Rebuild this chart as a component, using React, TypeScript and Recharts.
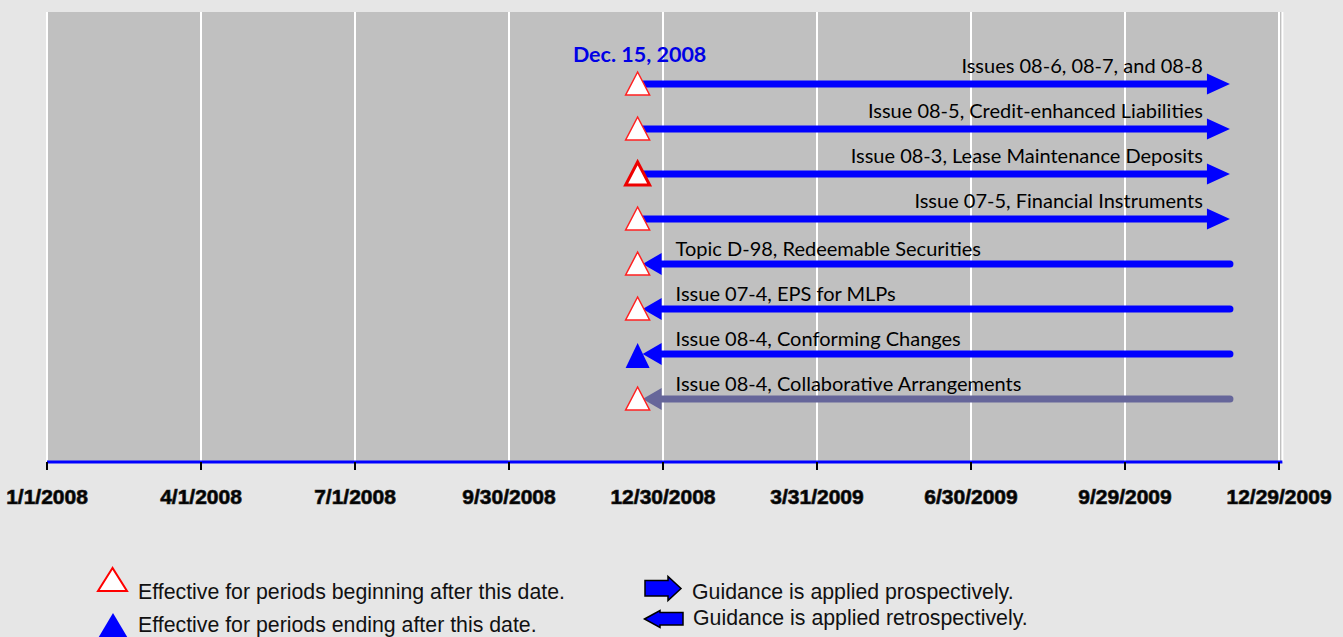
import React from 'react';
import { ComposedChart, XAxis, YAxis, CartesianGrid, ReferenceLine, ReferenceDot } from 'recharts';

// ---- data ----
const X_DOMAIN: [number, number] = [0, 730]; // days since 1/1/2008 (to 12/31/2009)
const TICK_DAYS = [0, 91, 182, 273, 364, 455, 546, 637, 728];
const TICK_LABELS = ['1/1/2008', '4/1/2008', '7/1/2008', '9/30/2008', '12/30/2008', '3/31/2009', '6/30/2009', '9/29/2009', '12/29/2009'];
const Y_DOMAIN: [number, number] = [0, 10];
const Y_TICKS = [0, 2, 4, 6, 8, 10];

const EFFECTIVE_DAY = 349; // Dec. 15, 2008
const EFFECTIVE_LABEL = 'Dec. 15, 2008';
const END_DAY = 699;

const ROW_LABELS = [
  'Issues 08-6, 08-7, and 08-8',
  'Issue 08-5, Credit-enhanced Liabilities',
  'Issue 08-3, Lease Maintenance Deposits',
  'Issue 07-5, Financial Instruments',
  'Topic D-98, Redeemable Securities',
  'Issue 07-4, EPS for MLPs',
  'Issue 08-4, Conforming Changes',
  'Issue 08-4, Collaborative Arrangements',
];
const ROW_VALUES = [8.4, 7.4, 6.4, 5.4, 4.4, 3.4, 2.4, 1.4];
const ROW_DIRECTION = ['prospective', 'prospective', 'prospective', 'prospective', 'retrospective', 'retrospective', 'retrospective', 'retrospective'];
const ROW_EFFECTIVE = ['beginning', 'beginning', 'beginning', 'beginning', 'beginning', 'beginning', 'ending', 'beginning'];

const LEGEND_MARKER_TEXT = ['Effective for periods beginning after this date.', 'Effective for periods ending after this date.'];
const LEGEND_ARROW_TEXT = ['Guidance is applied prospectively.', 'Guidance is applied retrospectively.'];

// ---- styles ----
const ROW_COLOR = ['#0000ff', '#0000ff', '#0000ff', '#0000ff', '#0000ff', '#0000ff', '#0000ff', '#66669a'];
const ROW_TRI_STROKE = [1.5, 1.5, 3, 1.5, 1.5, 1.5, 1.5, 1.5];
const LABEL_FONT = 'Lato, "Open Sans", sans-serif';
const ARIAL = '"Liberation Sans", Arial, sans-serif';
const BLUE = '#0000ff';

function makeArrow(i: number) {
  return (p: any) => {
    const { x1, y1, x2 } = p;
    const y = y1;
    const color = ROW_COLOR[i];
    if (ROW_DIRECTION[i] === 'prospective') {
      const headLen = 23;
      const half = 10.5;
      const base = x2 - headLen;
      return (
        <g>
          <line x1={x1} y1={y} x2={base + 1} y2={y} stroke={color} strokeWidth={7} />
          <polygon points={`${base},${y - half} ${x2},${y} ${base},${y + half}`} fill={color} />
        </g>
      );
    }
    const tip = x1 + 5;
    const headLen = 19;
    const half = 11;
    const base = tip + headLen;
    return (
      <g>
        <line x1={base - 1} y1={y} x2={x2} y2={y} stroke={color} strokeWidth={7} strokeLinecap="round" />
        <polygon points={`${base},${y - half} ${tip},${y} ${base},${y + half}`} fill={color} />
      </g>
    );
  };
}

function makeMarker(i: number) {
  return (p: any) => {
    const { cx, cy } = p;
    if (ROW_EFFECTIVE[i] === 'ending') {
      return <polygon points={`${cx},${cy - 11} ${cx - 12},${cy + 14} ${cx + 12},${cy + 14}`} fill={BLUE} />;
    }
    return (
      <polygon
        points={`${cx},${cy - 12} ${cx - 12},${cy + 11} ${cx + 12},${cy + 11}`}
        fill="#ffffff"
        stroke={ROW_TRI_STROKE[i] > 2 ? '#ee0000' : '#ff2020'}
        strokeWidth={ROW_TRI_STROKE[i]}
        strokeLinejoin="miter"
      />
    );
  };
}

function makeLabel(i: number) {
  return (p: any) => {
    const { cx, cy } = p;
    const pro = ROW_DIRECTION[i] === 'prospective';
    return (
      <text
        x={pro ? cx - 27 : cx + 38}
        y={pro ? cy - 11 : cy - 8}
        textAnchor={pro ? 'end' : 'start'}
        fontFamily={LABEL_FONT}
        fontSize={20}
        fill="#000"
      >
        {ROW_LABELS[i]}
      </text>
    );
  };
}

const dateLabelShape = (p: any) => (
  <text x={p.cx + 2} y={p.cy - 22} textAnchor="middle" fontFamily={LABEL_FONT} fontWeight={700} fontSize={21.5} fill="#0000e6">
    {EFFECTIVE_LABEL}
  </text>
);

const XTick = (props: any) => {
  const { x, y, payload } = props;
  const idx = TICK_DAYS.indexOf(payload.value);
  return (
    <text
      x={x}
      y={y + 34}
      textAnchor="middle"
      fontFamily={ARIAL}
      fontWeight={700}
      fontSize={21}
      fill="#000"
      stroke="#222"
      strokeWidth={0.7}
    >
      {idx >= 0 ? TICK_LABELS[idx] : ''}
    </text>
  );
};

function Legend() {
  return (
    <svg width={1343} height={637} style={{ position: 'absolute', left: 0, top: 0, pointerEvents: 'none' }}>
      <polygon points="112.5,568 98,591 127,591" fill="#fff" stroke="#ff0000" strokeWidth={2} />
      <text x={138} y={599} fontFamily={ARIAL} fontSize={21.3} fill="#111">{LEGEND_MARKER_TEXT[0]}</text>
      <polygon points="113,613 97,640 129,640" fill={BLUE} />
      <text x={138} y={632} fontFamily={ARIAL} fontSize={21.3} fill="#111">{LEGEND_MARKER_TEXT[1]}</text>

      <polygon points="645,580.5 668,580.5 668,576.5 681,588.5 668,600.5 668,596 645,596" fill={BLUE} stroke="#000" strokeWidth={1.5} />
      <text x={692} y={599} fontFamily={ARIAL} fontSize={21.3} fill="#111">{LEGEND_ARROW_TEXT[0]}</text>
      <polygon points="644.5,619 660,610.5 660,612.5 683,612.5 683,625 660,625 660,627.5" fill={BLUE} stroke="#000" strokeWidth={1.5} />
      <text x={693} y={625} fontFamily={ARIAL} fontSize={21.3} fill="#111">{LEGEND_ARROW_TEXT[1]}</text>
    </svg>
  );
}

export default function App() {
  return (
    <div style={{ position: 'fixed', left: 0, top: 0, width: 1343, height: 637, background: '#e6e6e6', overflow: 'hidden' }}>
      <ComposedChart width={1343} height={637} margin={{ top: 12, right: 60.6, bottom: 135, left: 47 }}>
        <CartesianGrid horizontal={false} vertical stroke="#ffffff" strokeWidth={2} fill="#c0c0c0" fillOpacity={1} />
        <XAxis
          dataKey="x"
          type="number"
          domain={X_DOMAIN}
          ticks={TICK_DAYS}
          interval={0}
          height={40}
          tickSize={8}
          tickMargin={0}
          tick={XTick}
          axisLine={{ stroke: BLUE, strokeWidth: 3 }}
          tickLine={{ stroke: '#000', strokeWidth: 2 }}
          allowDataOverflow
        />
        <XAxis xAxisId="top" orientation="top" type="number" domain={X_DOMAIN} height={0} tick={false} tickLine={false} axisLine={{ stroke: BLUE, strokeWidth: 3 }} allowDataOverflow />
        <YAxis
          type="number"
          domain={Y_DOMAIN}
          ticks={Y_TICKS}
          interval={0}
          width={0}
          tickSize={7}
          tickFormatter={() => ''}
          axisLine={{ stroke: '#1010a0', strokeWidth: 2 }}
          tickLine={{ stroke: '#000', strokeWidth: 3 }}
          allowDataOverflow
        />
        <YAxis yAxisId="right" orientation="right" type="number" domain={Y_DOMAIN} width={0} tick={false} tickLine={false} axisLine={{ stroke: BLUE, strokeWidth: 3 }} allowDataOverflow />

        {ROW_VALUES.map((v, i) => (
          <ReferenceLine
            key={`arrow-${i}`}
            segment={[{ x: EFFECTIVE_DAY, y: v }, { x: END_DAY, y: v }]}
            stroke={ROW_COLOR[i]}
            shape={makeArrow(i)}
          />
        ))}
        {ROW_VALUES.map((v, i) => (
          <ReferenceDot key={`marker-${i}`} x={EFFECTIVE_DAY} y={v} r={12} shape={makeMarker(i)} />
        ))}
        {ROW_VALUES.map((v, i) => (
          <ReferenceDot
            key={`label-${i}`}
            x={ROW_DIRECTION[i] === 'prospective' ? END_DAY : EFFECTIVE_DAY}
            y={v}
            r={1}
            shape={makeLabel(i)}
          />
        ))}
        <ReferenceDot x={EFFECTIVE_DAY} y={ROW_VALUES[0]} r={1} shape={dateLabelShape} />
      </ComposedChart>
      <Legend />
    </div>
  );
}
